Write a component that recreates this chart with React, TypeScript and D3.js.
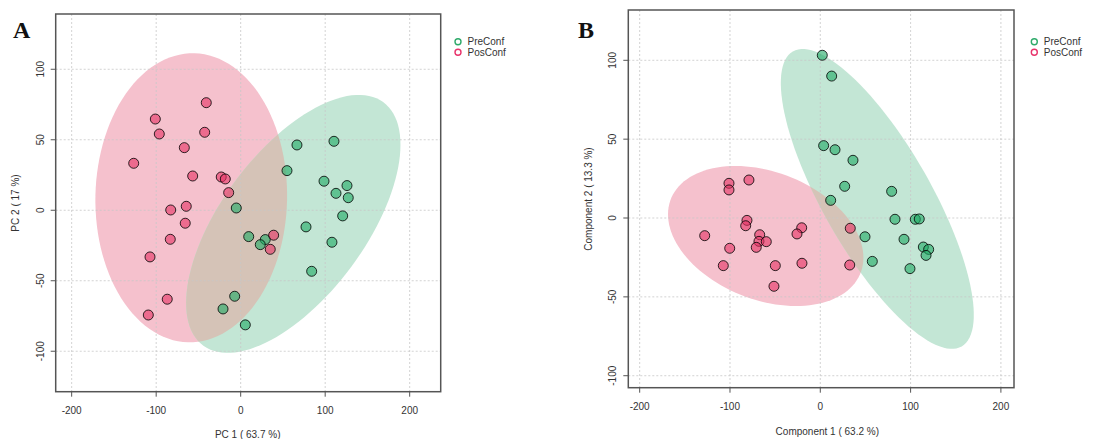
import React from "react";
import * as d3 from "d3";

// Panel A – PCA scores
const preA: [number, number][] = [
  [66.6, 46.3], [110.4, 48.9], [54.8, 28.1], [98.6, 20.6], [125.8, 17.5], [112.8, 12],
  [127.3, 8.9], [-5.2, 1.6], [120.7, -4], [77.3, -11.8], [9.5, -18.7], [29.1, -20.8],
  [23.2, -24.4], [108, -22.7], [84, -43.3], [-7.1, -61], [-20.9, -70], [5.5, -81.3],
];
const posA: [number, number][] = [
  [-40.7, 76.3], [-101, 64.7], [-96.3, 54.1], [-42.6, 55.3], [-66.7, 44.4], [-126.6, 33.3],
  [-56.8, 24.3], [-23, 23.6], [-18.2, 22.2], [-14.2, 12.5], [-82.8, 0.2], [-64.4, 2.8],
  [-65.6, -9.2], [-83.3, -20.6], [-107.3, -33.1], [-86.9, -63.1], [-109.3, -74.3],
  [39, -17.7], [35, -27.7],
];

// Panel B – PLS-DA scores
const preB: [number, number][] = [
  [2.2, 103.2], [12.6, 90], [3.7, 45.9], [16.3, 43.3], [36.2, 36.6], [27, 20.1],
  [79, 16.9], [11.5, 11.2], [82.7, -0.8], [105.2, -0.8], [109.6, -0.6], [49.5, -11.9],
  [92.7, -13.5], [114.1, -18.4], [120, -19.9], [117.1, -23.7], [57.6, -27.5], [99.3, -32.1],
];
const posB: [number, number][] = [
  [-101.1, 22], [-101.1, 17.8], [-79, 24.1], [-81.2, -1.5], [-82.6, -4.9], [-128, -11.2],
  [-67.1, -10.6], [-67.9, -14.8], [-59.8, -15], [-70.9, -18.6], [-100.3, -19.2],
  [-20.6, -6.2], [-25.8, -10.1], [33.2, -6.5], [-107.4, -30.2], [-49.8, -30.2],
  [-20.3, -28.7], [32.6, -29.8], [-51.3, -43.3],
];

const xTicks = [-200, -100, 0, 100, 200];
const yTicks = [-100, -50, 0, 50, 100];
const groups = ["PreConf", "PosConf"];

const FONT = "'Liberation Sans', Arial, sans-serif";

// 95% confidence ellipse from the group's covariance
function ellipsePts(pts: [number, number][]): [number, number][] {
  const n = pts.length;
  const mx = d3.mean(pts, (p) => p[0])!;
  const my = d3.mean(pts, (p) => p[1])!;
  let sxx = 0, syy = 0, sxy = 0;
  pts.forEach(([x, y]) => {
    sxx += (x - mx) ** 2;
    syy += (y - my) ** 2;
    sxy += (x - mx) * (y - my);
  });
  sxx /= n - 1; syy /= n - 1; sxy /= n - 1;
  const tr = sxx + syy, det = sxx * syy - sxy * sxy;
  const l1 = tr / 2 + Math.sqrt((tr * tr) / 4 - det);
  const l2 = tr / 2 - Math.sqrt((tr * tr) / 4 - det);
  const ang = Math.atan2(l1 - sxx, sxy);
  const t = Math.sqrt(5.991464547);
  const out: [number, number][] = [];
  for (let i = 0; i < 120; i++) {
    const th = (i / 120) * 2 * Math.PI;
    const a = t * Math.sqrt(l1) * Math.cos(th);
    const b = t * Math.sqrt(l2) * Math.sin(th);
    out.push([mx + a * Math.cos(ang) - b * Math.sin(ang), my + a * Math.sin(ang) + b * Math.cos(ang)]);
  }
  return out;
}

type PanelProps = {
  id: string;
  pre: [number, number][];
  pos: [number, number][];
  xDom: [number, number];
  yDom: [number, number];
  box: { l: number; r: number; t: number; b: number };
  letter: string;
  letterX: number;
  xTitle: string;
  yTitle: string;
  xTitleY: number;
  yTitleX: number;
  yTitleCy: number;
  legendX: number;
};

function Panel(p: PanelProps) {
  const x = d3.scaleLinear().domain(p.xDom).range([p.box.l, p.box.r]);
  const y = d3.scaleLinear().domain(p.yDom).range([p.box.b, p.box.t]);
  const line = d3
    .line<[number, number]>()
    .x((d) => x(d[0]))
    .y((d) => y(d[1]))
    .curve(d3.curveLinearClosed);
  const redPath = line(ellipsePts(p.pos))!;
  const greenPath = line(ellipsePts(p.pre))!;
  return (
    <g>
      <defs>
        <clipPath id={"clip-" + p.id}>
          <path d={redPath} />
        </clipPath>
      </defs>
      <text x={p.letterX} y={38} fontFamily="'Liberation Serif', 'Times New Roman', serif" fontWeight="bold" fontSize={24} fill="#111">
        {p.letter}
      </text>
      <path d={redPath} fill="#f5c1cd" />
      <path d={greenPath} fill="#c3e6d5" />
      <path d={greenPath} fill="#d5c3b7" clipPath={`url(#clip-${p.id})`} />
      {xTicks.map((t) => (
        <line key={"gx" + t} x1={x(t)} x2={x(t)} y1={p.box.t} y2={p.box.b} stroke="#c8c8c8" strokeDasharray="2,2" strokeWidth={0.8} />
      ))}
      {yTicks.map((t) => (
        <line key={"gy" + t} x1={p.box.l} x2={p.box.r} y1={y(t)} y2={y(t)} stroke="#c8c8c8" strokeDasharray="2,2" strokeWidth={0.8} />
      ))}
      {p.pre.map((d, i) => (
        <circle key={"g" + i} cx={x(d[0])} cy={y(d[1])} r={5} fill="rgba(30,170,100,0.6)" stroke="rgba(0,0,0,0.8)" strokeWidth={1} />
      ))}
      {p.pos.map((d, i) => (
        <circle key={"r" + i} cx={x(d[0])} cy={y(d[1])} r={5} fill="rgba(230,50,100,0.6)" stroke="rgba(0,0,0,0.8)" strokeWidth={1} />
      ))}
      <rect x={p.box.l} y={p.box.t} width={p.box.r - p.box.l} height={p.box.b - p.box.t} fill="none" stroke="#555" strokeWidth={1.5} />
      {xTicks.map((t) => (
        <g key={"tx" + t}>
          <line x1={x(t)} x2={x(t)} y1={p.box.b} y2={p.box.b + 5} stroke="#555" />
          <text x={x(t)} y={p.box.b + 22} textAnchor="middle" fontFamily={FONT} fontSize={10} fill="#333">
            {t}
          </text>
        </g>
      ))}
      {yTicks.map((t) => (
        <g key={"ty" + t}>
          <line x1={p.box.l} x2={p.box.l - 5} y1={y(t)} y2={y(t)} stroke="#555" />
          <text transform={`translate(${p.box.l - 12},${y(t)}) rotate(-90)`} textAnchor="middle" fontFamily={FONT} fontSize={10} fill="#333">
            {t}
          </text>
        </g>
      ))}
      <text x={x(0) + 7} y={p.xTitleY} textAnchor="middle" fontFamily={FONT} fontSize={10} fill="#333">
        {p.xTitle}
      </text>
      <text transform={`translate(${p.yTitleX},${p.yTitleCy}) rotate(-90)`} textAnchor="middle" fontFamily={FONT} fontSize={10} fill="#333">
        {p.yTitle}
      </text>
      {groups.map((g, i) => (
        <g key={g}>
          <circle cx={p.legendX} cy={41.7 + i * 10.6} r={3} fill="none" stroke={i === 0 ? "#2eaa6a" : "#e8336b"} strokeWidth={1.4} />
          <text x={p.legendX + 9.5} y={45.3 + i * 10.6} fontFamily={FONT} fontSize={10} fill="#333">
            {g}
          </text>
        </g>
      ))}
    </g>
  );
}

export default function App() {
  return (
    <svg width={1119} height={439} style={{ position: "absolute", left: 0, top: 0, background: "#fff" }}>
      <rect width={1119} height={439} fill="#fff" />
      <Panel
        id="a"
        pre={preA}
        pos={posA}
        xDom={[-218.9, 236.7]}
        yDom={[-128.7, 139.2]}
        box={{ l: 55.7, r: 440.7, t: 14, b: 391.7 }}
        letter="A"
        letterX={13}
        xTitle="PC 1 ( 63.7 %)"
        yTitle="PC 2 ( 17 %)"
        xTitleY={437.5}
        yTitleX={19}
        yTitleCy={203}
        legendX={458}
      />
      <Panel
        id="b"
        pre={preB}
        pos={posB}
        xDom={[-212.6, 214.5]}
        yDom={[-107.6, 131.9]}
        box={{ l: 628.3, r: 1014, t: 10, b: 387.7 }}
        letter="B"
        letterX={578}
        xTitle="Component 1 ( 63.2 %)"
        yTitle="Component 2 ( 13.3 %)"
        xTitleY={434.5}
        yTitleX={592}
        yTitleCy={199}
        legendX={1034.3}
      />
    </svg>
  );
}
